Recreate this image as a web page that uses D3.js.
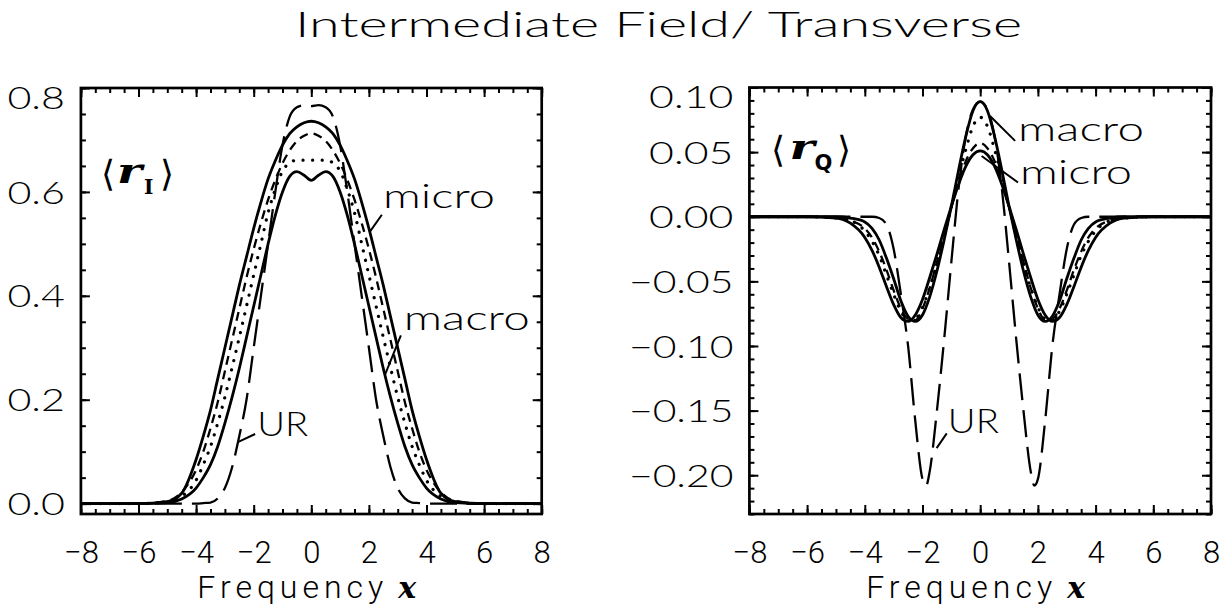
<!DOCTYPE html>
<html><head><meta charset="utf-8">
<script src="https://cdn.jsdelivr.net/npm/d3@7"></script>
<style>
body{margin:0;background:#fff}
svg{display:block;background:#fff}
</style></head><body>
<svg id="c" width="1225" height="608"></svg>
<script>
// ---------------- DATA ----------------
const titleText = "Intermediate Field/ Transverse";
const xLabelText = "Frequency";
const xDomain = [-8, 8];
const xMajorTicks = [-8, -6, -4, -2, 0, 2, 4, 6, 8];
const yMajorI = [0.0, 0.2, 0.4, 0.6, 0.8];
const yMajorQ = [-0.20, -0.15, -0.10, -0.05, 0.00, 0.05, 0.10];
const yDomainI = [-0.02, 0.80];
const yDomainQ = [-0.23, 0.10];

// frequency grid for <r_I> and <r_Q>
const xGrid = [-8,-6,-5,-4.5,-4,-3.75,-3.5,-3.25,-3,-2.75,-2.5,-2.25,-2,-1.75,-1.5,-1.25,-1,-0.75,-0.5,-0.25,0,
               0.25,0.5,0.75,1,1.25,1.5,1.75,2,2.25,2.5,2.75,3,3.25,3.5,3.75,4,4.5,5,6,8];
const xGridUR = [-8,-6,-5,-4,-3.75,-3.5,-3.25,-3,-2.75,-2.5,-2.25,-2,-1.875,-1.75,-1.5,-1.25,-1,-0.75,-0.5,-0.25,0,
                 0.25,0.5,0.75,1,1.25,1.5,1.75,1.875,2,2.25,2.5,2.75,3,3.25,3.5,3.75,4,5,6,8];

// <r_I>
const rI_micro = [0,0,0.004,0.02,0.085,0.13,0.18,0.24,0.30,0.36,0.42,0.475,0.53,0.58,0.625,0.66,0.69,0.712,0.725,0.733,0.736,
                  0.733,0.725,0.712,0.69,0.66,0.625,0.58,0.53,0.475,0.42,0.36,0.30,0.24,0.18,0.13,0.085,0.02,0.004,0,0];
const rI_macro = [0,0,0.002,0.009,0.03,0.05,0.075,0.11,0.155,0.205,0.26,0.32,0.38,0.44,0.50,0.555,0.60,0.63,0.639,0.632,0.622,
                  0.632,0.639,0.63,0.60,0.555,0.50,0.44,0.38,0.32,0.26,0.205,0.155,0.11,0.075,0.05,0.03,0.009,0.002,0,0];
const rI_dot   = [0,0,0.003,0.014,0.045,0.075,0.11,0.155,0.205,0.262,0.32,0.38,0.44,0.50,0.56,0.605,0.64,0.656,0.661,0.661,0.661,
                  0.661,0.661,0.656,0.64,0.605,0.56,0.50,0.44,0.38,0.32,0.262,0.205,0.155,0.11,0.075,0.045,0.014,0.003,0,0];
const rI_dash  = [0,0,0.005,0.022,0.065,0.10,0.145,0.195,0.255,0.315,0.375,0.435,0.49,0.54,0.585,0.623,0.655,0.68,0.698,0.708,0.713,
                  0.708,0.698,0.68,0.655,0.623,0.585,0.54,0.49,0.435,0.375,0.315,0.255,0.195,0.145,0.10,0.065,0.022,0.005,0,0];
const rI_UR    = [0,0,0,0,0,0.001,0.002,0.01,0.03,0.07,0.13,0.20,0.30,0.40,0.50,0.60,0.69,0.745,0.763,0.767,0.765,
                  0.767,0.763,0.745,0.69,0.60,0.50,0.40,0.30,0.20,0.13,0.07,0.03,0.01,0.002,0.001,0,0,0,0,0];

// <r_Q>
const rQ_macro = [0,0,0,-0.001,-0.004,-0.009,-0.018,-0.032,-0.048,-0.065,-0.077,-0.081,-0.076,-0.062,-0.042,-0.018,0.008,0.036,0.062,0.082,0.089,
                  0.082,0.062,0.036,0.008,-0.018,-0.042,-0.062,-0.076,-0.081,-0.077,-0.065,-0.048,-0.032,-0.018,-0.009,-0.004,-0.001,0,0,0];
const rQ_micro = [0,0,-0.001,-0.005,-0.016,-0.026,-0.039,-0.054,-0.068,-0.078,-0.081,-0.076,-0.064,-0.047,-0.029,-0.01,0.008,0.025,0.039,0.048,0.051,
                  0.048,0.039,0.025,0.008,-0.01,-0.029,-0.047,-0.064,-0.076,-0.081,-0.078,-0.068,-0.054,-0.039,-0.026,-0.016,-0.005,-0.001,0,0];
const rQ_dot   = [0,0,-0.001,-0.003,-0.011,-0.019,-0.030,-0.045,-0.060,-0.073,-0.080,-0.079,-0.070,-0.055,-0.036,-0.015,0.008,0.031,0.052,0.070,0.077,
                  0.070,0.052,0.031,0.008,-0.015,-0.036,-0.055,-0.070,-0.079,-0.080,-0.073,-0.060,-0.045,-0.030,-0.019,-0.011,-0.003,-0.001,0,0];
const rQ_dash  = [0,0,-0.001,-0.003,-0.009,-0.016,-0.027,-0.041,-0.057,-0.071,-0.079,-0.080,-0.071,-0.055,-0.035,-0.014,0.007,0.027,0.043,0.053,0.057,
                  0.053,0.043,0.027,0.007,-0.014,-0.035,-0.055,-0.071,-0.080,-0.079,-0.071,-0.057,-0.041,-0.027,-0.016,-0.009,-0.003,-0.001,0,0];
const rQ_UR    = [0,0,0,0,0,-0.001,-0.006,-0.025,-0.06,-0.10,-0.158,-0.203,-0.208,-0.197,-0.150,-0.095,-0.035,0.022,0.062,0.083,0.089,
                  0.083,0.062,0.022,-0.035,-0.095,-0.150,-0.197,-0.208,-0.203,-0.158,-0.10,-0.06,-0.025,-0.006,-0.001,0,0,0,0,0];

// annotations in data units: text start, leader start, leader end
const annotI = [
  {label:"micro", tx:2.49, ty:0.569, x1:2.45, y1:0.556, x2:2.03, y2:0.523},
  {label:"macro", tx:3.21, ty:0.334, x1:3.11, y1:0.324, x2:2.55, y2:0.247},
  {label:"UR",    tx:-1.88, ty:0.130, x1:-1.95, y1:0.134, x2:-2.53, y2:0.119}
];
const annotQ = [
  {label:"macro", tx:1.31, ty:0.0587, x1:1.21, y1:0.0587, x2:0.34, y2:0.078},
  {label:"micro", tx:1.38, ty:0.0255, x1:1.31, y1:0.0265, x2:0.05, y2:0.047},
  {label:"UR",    tx:-1.12, ty:-0.1676, x1:-1.16, y1:-0.1676, x2:-1.51, y2:-0.179}
];

// ---------------- STYLE / LAYOUT ----------------
const svg = d3.select("#c");
const LIGHT = "Lato, 'Open Sans', 'DejaVu Sans', sans-serif";
const COND = "Roboto, 'Liberation Sans', sans-serif";
const annotWidth = {micro:112, macro:126, UR:51};
const styles = {
  solid:{dash:null, w:2.8},
  dot:{dash:"0.1,9.5", w:3.2, cap:"round"},
  dash:{dash:"9,6", w:2.3},
  long:{dash:"27,10", w:2.3}
};

svg.append("text").attr("x", 295).attr("y", 37)
  .attr("font-family", LIGHT).attr("font-weight", 300).attr("font-size", 35)
  .attr("textLength", 727).attr("lengthAdjust", "spacingAndGlyphs")
  .text(titleText);

function labelLen(s){
  let L = 0;
  const ch = Array.from(s);
  ch.forEach((c,i)=>{
    if(i === ch.length-1){ L += (c==="."?4:21); }
    else L += (c==="."?9.5:(c==="−"?20:27));
  });
  return L;
}

function panel(cfg){
  const g = svg.append("g");
  const x = d3.scaleLinear().domain(xDomain).range([cfg.x0, cfg.x1]);
  const y = d3.scaleLinear().domain(cfg.yDomain).range([cfg.y1, cfg.y0]);
  const id = "clip" + cfg.name;
  svg.append("clipPath").attr("id", id).append("rect")
    .attr("x", cfg.x0).attr("y", cfg.y0).attr("width", cfg.x1-cfg.x0).attr("height", cfg.y1-cfg.y0);

  // curves
  const line = d3.line().x(d=>x(d[0])).y(d=>y(d[1])).curve(d3.curveMonotoneX);
  const cg = g.append("g").attr("clip-path", `url(#${id})`);
  cfg.series.forEach(s=>{
    const st = styles[s.style];
    cg.append("path").datum(d3.zip(s.x, s.y))
      .attr("d", line).attr("fill","none").attr("stroke","#000")
      .attr("stroke-width", st.w)
      .attr("stroke-dasharray", st.dash)
      .attr("stroke-linecap", st.cap || "butt")
      .attr("stroke-linejoin","round");
  });

  // ticks (inward on all four sides)
  const xMinor = d3.range(-8, 8.001, 0.5);
  const yMinor = d3.range(cfg.minorStart, cfg.yDomain[1]+1e-9, cfg.minorStep);
  function tk(axisFn, scale, vals, size, tr, fmt, pad){
    const a = axisFn(scale).tickValues(vals).tickSize(size).tickSizeOuter(0).tickFormat(fmt || "");
    if(pad !== undefined) a.tickPadding(pad);
    const ax = g.append("g").attr("transform", tr).call(a);
    ax.select(".domain").remove();
    ax.selectAll(".tick line").attr("stroke-width", 2);
    return ax;
  }
  tk(d3.axisBottom, x, xMinor, -5, `translate(0,${cfg.y1})`);
  tk(d3.axisTop, x, xMinor, -5, `translate(0,${cfg.y0})`);
  tk(d3.axisTop, x, xMajorTicks, -9, `translate(0,${cfg.y0})`);
  tk(d3.axisLeft, y, yMinor, -5, `translate(${cfg.x0},0)`);
  tk(d3.axisRight, y, yMinor, -5, `translate(${cfg.x1},0)`);
  tk(d3.axisRight, y, cfg.yMajor, -9, `translate(${cfg.x1},0)`);

  const bx = tk(d3.axisBottom, x, xMajorTicks, -9, `translate(0,${cfg.y1})`,
     d => (d<0?"−":"") + Math.abs(d), 27);
  bx.selectAll("text").attr("font-family", COND).attr("font-weight", 300)
    .attr("font-size", 31).attr("fill","#000");

  const ly = tk(d3.axisLeft, y, cfg.yMajor, -9, `translate(${cfg.x0},0)`, cfg.fmt, 16);
  ly.selectAll("text").attr("font-family", LIGHT).attr("font-weight", 300)
    .attr("font-size", 31).attr("fill","#000")
    .attr("textLength", d => labelLen(cfg.fmt(d))).attr("lengthAdjust","spacingAndGlyphs")
    .attr("dy", d => d === cfg.yMajor[cfg.yMajor.length-1] ? "0.66em" : "0.36em");

  // frame
  g.append("rect").attr("x", cfg.x0).attr("y", cfg.y0)
    .attr("width", cfg.x1-cfg.x0).attr("height", cfg.y1-cfg.y0)
    .attr("fill","none").attr("stroke","#000").attr("stroke-width", 2.7);

  // x axis title
  const cx = (cfg.x0 + cfg.x1)/2;
  const xt = g.append("text").attr("y", 598).attr("fill","#000");
  xt.append("tspan").attr("x", cx-114).attr("font-family", COND).attr("font-weight",300)
    .attr("font-size", 32).attr("textLength", 186).attr("lengthAdjust","spacing").text(xLabelText);
  xt.append("tspan").attr("x", cx+87).attr("font-family","'DejaVu Serif', serif")
    .attr("font-style","italic").attr("font-weight","bold").attr("font-size", 30).text("x");

  // panel label <r_X>
  const pl = g.append("text").attr("y", cfg.labY).attr("fill","#000");
  const lx = cfg.x0 + cfg.labDX;
  pl.append("tspan").attr("x", lx).attr("font-family","'DejaVu Sans', 'Noto Sans CJK SC', sans-serif")
    .attr("font-weight", 200).attr("font-size", 36).text("⟨");
  pl.append("tspan").attr("x", lx+cfg.rDX).attr("dy", -3).attr("font-family","'DejaVu Serif', serif")
    .attr("font-style","italic").attr("font-weight","bold").attr("font-size", 36)
    .attr("textLength", 25).attr("lengthAdjust","spacingAndGlyphs").text("r");
  pl.append("tspan").attr("x", lx+cfg.subDX).attr("dy", 11).attr("font-family", cfg.subFont)
    .attr("font-weight","bold").attr("font-size", cfg.subSize).text(cfg.sub);
  pl.append("tspan").attr("x", lx+cfg.closeDX).attr("dy", -8).attr("font-family","'DejaVu Sans', 'Noto Sans CJK SC', sans-serif")
    .attr("font-weight", 200).attr("font-size", 36).text("⟩");

  // annotations
  cfg.annot.forEach(a=>{
    g.append("line").attr("x1", x(a.x1)).attr("y1", y(a.y1)).attr("x2", x(a.x2)).attr("y2", y(a.y2))
      .attr("stroke","#000").attr("stroke-width", 2);
    g.append("text").attr("x", x(a.tx)).attr("y", y(a.ty))
      .attr("font-family", LIGHT).attr("font-weight", 300).attr("font-size", 34)
      .attr("textLength", annotWidth[a.label]).attr("lengthAdjust","spacingAndGlyphs")
      .attr("fill","#000").text(a.label);
  });
}

panel({
  name:"I", x0:80.9, x1:541.7, y0:88, y1:514, yDomain:yDomainI, yMajor:yMajorI,
  minorStart:0, minorStep:0.05, fmt: d => d.toFixed(1),
  labY:186, labDX:20, rDX:16, subDX:43, closeDX:59, sub:"I", subFont:"'DejaVu Serif', serif", subSize:20,
  annot:annotI,
  series:[
    {x:xGrid, y:rI_micro, style:"solid"},
    {x:xGrid, y:rI_macro, style:"solid"},
    {x:xGrid, y:rI_dot, style:"dot"},
    {x:xGrid, y:rI_dash, style:"dash"},
    {x:xGrid, y:rI_UR, style:"long"}
  ]
});
panel({
  name:"Q", x0:749.4, x1:1211, y0:87.5, y1:514, yDomain:yDomainQ, yMajor:yMajorQ,
  minorStart:-0.23, minorStep:0.01, fmt: d => (d<0?"−":"") + Math.abs(d).toFixed(2),
  labY:162, labDX:22, rDX:18, subDX:43, closeDX:66, sub:"Q", subFont:"'DejaVu Sans', sans-serif", subSize:21,
  annot:annotQ,
  series:[
    {x:xGrid, y:rQ_macro, style:"solid"},
    {x:xGrid, y:rQ_micro, style:"solid"},
    {x:xGrid, y:rQ_dot, style:"dot"},
    {x:xGrid, y:rQ_dash, style:"dash"},
    {x:xGridUR, y:rQ_UR, style:"long"}
  ]
});
</script>
</body></html>
